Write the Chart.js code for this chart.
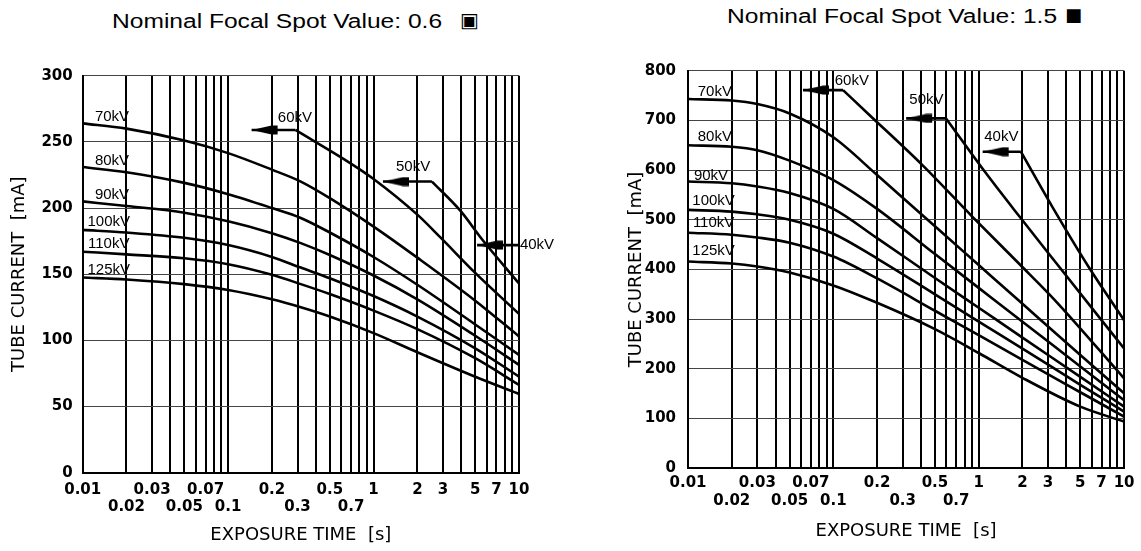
<!DOCTYPE html>
<html><head><meta charset="utf-8">
<script src="https://cdn.jsdelivr.net/npm/chart.js@4/dist/chart.umd.min.js"></script>
<style>
html,body{margin:0;padding:0;background:#fff;width:1141px;height:551px;overflow:hidden;position:relative}
.wrap{position:absolute;top:0;height:551px}
.ttl{position:absolute;font-family:"Liberation Sans",Arial,sans-serif;font-size:19.5px;line-height:22px;color:#000;white-space:nowrap;transform-origin:left center}
.sym{position:absolute;font-family:"DejaVu Sans",sans-serif;color:#000;line-height:1}
</style></head>
<body>
<div class="ttl" style="left:112px;top:10px;transform:scaleX(1.26)">Nominal Focal Spot Value: 0.6</div>
<div class="sym" style="left:460px;top:10px;font-size:20px">▣</div>
<div class="ttl" style="left:727px;top:5px;transform:scaleX(1.26)">Nominal Focal Spot Value: 1.5</div>
<div class="sym" style="left:1065px;top:6px;font-size:18px">■</div>
<div class="wrap" style="left:0;width:570px"><canvas id="cL" width="570" height="551"></canvas></div>
<div class="wrap" style="left:570px;width:571px"><canvas id="cR" width="571" height="551"></canvas></div>
<script>
// ---------- shared axis data ----------
const xGridValues = [0.01,0.02,0.03,0.04,0.05,0.06,0.07,0.08,0.09,0.1,0.2,0.3,0.4,0.5,0.6,0.7,0.8,0.9,1,2,3,4,5,6,7,8,9,10];
const xLabelsRow1 = ['0.01','0.03','0.07','0.2','0.5','1','2','3','5','7','10'];
const xLabelsRow2 = ['0.02','0.05','0.1','0.3','0.7'];

// ---------- left panel: focal spot 0.6 ----------
const L_t = [0.01,0.02,0.05,0.1,0.2,0.316,0.5,1,2,5,10];
const L_mA_70  = [264,260,251,241.5,229,220,207.5,186,162.5,130,103];
const L_mA_80  = [231,227,219,210.5,200,192.5,181.5,163,142,112,89];
const L_mA_90  = [205,201.5,196.5,190,181,173.5,164.5,149,131,103.5,81.5];
const L_mA_100 = [183.5,181.5,177.5,172,163,155,147,133.5,118,94,72.6];
const L_mA_110 = [167,165,162,157.5,149.5,142.5,135,122.5,108.5,86.5,66.3];
const L_mA_125 = [147.5,146,142.5,138,131,125,118,105.5,91,72.5,59.5];
const L_t_60 = [0.29,0.69,1,2,2.87,5,10];
const L_mA_60 = [259,234,222,195,178,151,120];
const L_t_50 = [2.52,3.95,5.6,10];
const L_mA_50 = [220,198,176,143];
const L_arrowHead = [0.145,1.16,5.15];
const L_arrowTail = [0.29,2.52,10];
const L_arrowMA = [259,220,172];
const L_labelText = ['70kV','80kV','90kV','100kV','110kV','125kV','60kV','50kV','40kV'];
const L_labelTime = [0.0159,0.0159,0.0159,0.0151,0.0151,0.0151,0.288,1.87,13.3];
const L_labelMA = [269,236,210,189.5,173,153,268,231,172];

// ---------- right panel: focal spot 1.5 ----------
const R_t = [0.01,0.02,0.03,0.05,0.1,0.2,0.5,1,2,5,10];
const R_mA_70  = [743,740,733,714,666,590,487,409,331,228,151];
const R_mA_80  = [650,647,640,619,580,522,431,363,295,205,137];
const R_mA_90  = [577,573.5,567,554,522,463,383,323,263,184,124];
const R_mA_100 = [520,516.5,511,500,472,422,350,295,241,168,114];
const R_mA_110 = [474,470,464.5,454,426,382,317,268,218,153,104];
const R_mA_125 = [416,412,406,394,368,333,280,232,182,124,94];
const R_t_60 = [0.1166,0.177,0.41,0.906,1.89,3.3,10];
const R_mA_60 = [761,711,610,506,412,340,181];
const R_t_50 = [0.596,1.12,1.89,3.39,10];
const R_mA_50 = [704,594,508,414,241];
const R_t_40 = [1.95,3.21,5.68,10];
const R_mA_40 = [637,526,406,298];
const R_arrowHead = [0.0618,0.317,1.065];
const R_arrowTail = [0.1166,0.596,1.95];
const R_arrowMA = [761,704,637];
const R_labelText = ['70kV','80kV','90kV','100kV','110kV','125kV','60kV','50kV','40kV'];
const R_labelTime = [0.0153,0.0153,0.0144,0.015,0.015,0.015,0.134,0.437,1.43];
const R_labelMA = [758,666,588,538,494,437,780,741,666];

// ---------- helpers ----------
Chart.defaults.font.family = '"DejaVu Sans", sans-serif';
Chart.defaults.color = '#000';

// left-pointing wedge; tip sits at the centre of the image
const arrowHeadImg = (() => {
  const c = document.createElement('canvas'); c.width = 56; c.height = 10;
  const g = c.getContext('2d'); g.fillStyle = '#000';
  g.beginPath(); g.moveTo(28, 5); g.lineTo(48, 0.5); g.lineTo(54, 0.5); g.lineTo(54, 9.5); g.lineTo(48, 9.5); g.closePath(); g.fill();
  return c;
})();

function pts(t, m) { return t.map((v, i) => ({x: v, y: m[i]})); }
function curve(label, t, m) {
  return {label, data: pts(t, m), borderColor: '#000', borderWidth: 2.6, pointRadius: 0,
          cubicInterpolationMode: 'monotone', fill: false};
}
function arrows(heads, tails, mA) {
  return heads.map((h, i) => ({
    label: 'arrow' + i, data: [{x: h, y: mA[i]}, {x: tails[i], y: mA[i]}],
    borderColor: '#000', backgroundColor: '#000', borderWidth: 2.6,
    pointRadius: [3, 0], pointStyle: arrowHeadImg, fill: false
  }));
}
const kvLabelPlugin = {
  id: 'kvLabels',
  afterDatasetsDraw(chart, args, o) {
    const {ctx} = chart, x = chart.scales.x, y = chart.scales.y;
    ctx.save();
    ctx.font = '15px "Liberation Sans", Arial, sans-serif';
    ctx.fillStyle = '#000'; ctx.textAlign = 'center'; ctx.textBaseline = 'middle';
    o.text.forEach((s, i) => ctx.fillText(s, x.getPixelForValue(o.time[i]), y.getPixelForValue(o.mA[i])));
    ctx.restore();
  }
};
function fmt(v) { return String(+Number(v).toPrecision(3)); }

function makeChart(id, g, datasets, yMax, yStep, lbl) {
  return new Chart(document.getElementById(id), {
    type: 'line',
    data: {datasets},
    plugins: [kvLabelPlugin],
    options: {
      responsive: false, animation: false, devicePixelRatio: 1,
      layout: {padding: {left: 0, right: g.padR, top: g.padT, bottom: 0}},
      plugins: {legend: {display: false}, tooltip: {enabled: false}, kvLabels: lbl},
      scales: {
        x: {
          type: 'logarithmic', min: 0.01, max: 10,
          afterBuildTicks: s => { s.ticks = xGridValues.map(v => ({value: v})); },
          afterFit: s => { s.height = g.xH; },
          grid: {color: '#000', lineWidth: 2, drawTicks: false},
          border: {display: true, color: '#000', width: 2},
          ticks: {
            autoSkip: false, maxRotation: 0, minRotation: 0, padding: g.xTickPad,
            font: {family: '"DejaVu Sans", sans-serif', size: 15, weight: 'bold', lineHeight: 1.15},
            callback: v => { const s = fmt(v); if (xLabelsRow1.includes(s)) return s; if (xLabelsRow2.includes(s)) return ['', s]; return ''; }
          },
          title: {display: true, text: 'EXPOSURE TIME  [s]', font: {size: 18, lineHeight: 1.2}, padding: {top: 0, bottom: g.xTitlePad}}
        },
        y: {
          type: 'linear', min: 0, max: yMax,
          afterFit: s => { s.width = g.yW; },
          grid: {color: '#444', lineWidth: 1, drawTicks: false},
          border: {display: true, color: '#000', width: 2},
          ticks: {stepSize: yStep, padding: g.yTickPad, font: {family: '"DejaVu Sans", sans-serif', size: 15, weight: 'bold'}},
          title: {display: true, text: 'TUBE CURRENT  [mA]', font: {size: 18, lineHeight: 1.2}, padding: {top: g.yTitlePad, bottom: 0}}
        }
      }
    }
  });
}

makeChart('cL', {padR: 51, padT: 75.7, xH: 78.3, yW: 82.7, xTickPad: 8.5, xTitlePad: 5, yTickPad: 10, yTitlePad: 9},
  [curve('70kV', L_t, L_mA_70), curve('80kV', L_t, L_mA_80), curve('90kV', L_t, L_mA_90),
   curve('100kV', L_t, L_mA_100), curve('110kV', L_t, L_mA_110), curve('125kV', L_t, L_mA_125),
   curve('60kV', L_t_60, L_mA_60), curve('50kV', L_t_50, L_mA_50),
   ...arrows(L_arrowHead, L_arrowTail, L_arrowMA)],
  300, 50, {text: L_labelText, time: L_labelTime, mA: L_labelMA});

makeChart('cR', {padR: 16, padT: 70.7, xH: 82.7, yW: 118, xTickPad: 6.5, xTitlePad: 9, yTickPad: 12, yTitlePad: 56},
  [curve('70kV', R_t, R_mA_70), curve('80kV', R_t, R_mA_80), curve('90kV', R_t, R_mA_90),
   curve('100kV', R_t, R_mA_100), curve('110kV', R_t, R_mA_110), curve('125kV', R_t, R_mA_125),
   curve('60kV', R_t_60, R_mA_60), curve('50kV', R_t_50, R_mA_50), curve('40kV', R_t_40, R_mA_40),
   ...arrows(R_arrowHead, R_arrowTail, R_arrowMA)],
  800, 100, {text: R_labelText, time: R_labelTime, mA: R_labelMA});
</script>
</body></html>
